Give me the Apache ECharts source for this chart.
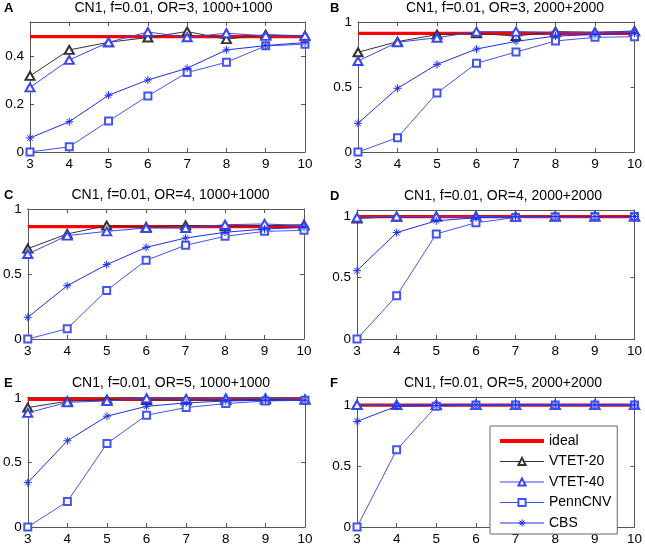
<!DOCTYPE html>
<html>
<head>
<meta charset="utf-8">
<script src="https://cdn.jsdelivr.net/npm/echarts@6/dist/echarts.min.js"></script>
<style>
html,body{margin:0;padding:0;background:#fff;}
#chart{width:645px;height:546px;}
</style>
</head>
<body>
<div id="chart"></div>
<script>
// ---------- data ----------
const xValues = [3, 4, 5, 6, 7, 8, 9, 10];
const panelLetters = ['A', 'B', 'C', 'D', 'E', 'F'];
const panelTitles = [
  'CN1, f=0.01, OR=3, 1000+1000',
  'CN1, f=0.01, OR=3, 2000+2000',
  'CN1, f=0.01, OR=4, 1000+1000',
  'CN1, f=0.01, OR=4, 2000+2000',
  'CN1, f=0.01, OR=5, 1000+1000',
  'CN1, f=0.01, OR=5, 2000+2000'
];
const seriesNames = ['ideal', 'VTET-20', 'VTET-40', 'PennCNV', 'CBS'];
const idealValues = [0.484, 0.913, 0.864, 0.996, 0.992, 0.998];

const vtet20A = [0.319, 0.428, 0.460, 0.480, 0.505, 0.473, 0.492, 0.487];
const vtet40A = [0.271, 0.386, 0.460, 0.503, 0.481, 0.498, 0.487, 0.487];
const pennA   = [0.000, 0.022, 0.130, 0.235, 0.333, 0.376, 0.445, 0.452];
const cbsA    = [0.059, 0.127, 0.238, 0.302, 0.351, 0.428, 0.446, 0.459];

const vtet20B = [0.767, 0.849, 0.903, 0.913, 0.892, 0.926, 0.920, 0.931];
const vtet40B = [0.700, 0.844, 0.879, 0.926, 0.926, 0.920, 0.920, 0.926];
const pennB   = [0.000, 0.110, 0.454, 0.682, 0.769, 0.854, 0.882, 0.887];
const cbsB    = [0.221, 0.490, 0.674, 0.792, 0.851, 0.892, 0.903, 0.913];

const vtet20C = [0.695, 0.808, 0.872, 0.862, 0.874, 0.867, 0.872, 0.879];
const vtet40C = [0.654, 0.795, 0.828, 0.854, 0.854, 0.879, 0.885, 0.872];
const pennC   = [0.000, 0.079, 0.374, 0.605, 0.721, 0.790, 0.828, 0.836];
const cbsC    = [0.167, 0.410, 0.572, 0.705, 0.777, 0.821, 0.846, 0.859];

const vtet20D = [0.981, 0.995, 0.997, 0.997, 0.997, 0.997, 0.997, 0.997];
const vtet40D = [0.989, 0.997, 0.997, 0.997, 0.997, 0.997, 0.997, 0.997];
const pennD   = [0.000, 0.352, 0.855, 0.946, 0.989, 0.995, 0.997, 0.997];
const cbsD    = [0.556, 0.866, 0.962, 0.987, 0.995, 0.997, 0.997, 0.997];

const vtet20E = [0.928, 0.977, 0.990, 0.987, 0.985, 0.985, 0.990, 0.990];
const vtet40E = [0.887, 0.969, 0.979, 1.000, 0.995, 1.000, 1.000, 0.990];
const pennE   = [0.000, 0.198, 0.649, 0.869, 0.928, 0.959, 0.979, 0.985];
const cbsE    = [0.345, 0.670, 0.861, 0.938, 0.964, 0.979, 0.985, 0.985];

const vtet20F = [1.000, 1.000, 1.000, 1.000, 1.000, 1.000, 1.000, 1.000];
const vtet40F = [1.000, 1.000, 1.000, 1.000, 1.000, 1.000, 1.000, 1.000];
const pennF   = [0.000, 0.632, 0.989, 1.000, 1.000, 1.000, 1.000, 1.000];
const cbsF    = [0.865, 0.989, 0.995, 1.000, 1.000, 1.000, 1.000, 1.000];

const panelSeries = [
  [vtet20A, vtet40A, pennA, cbsA],
  [vtet20B, vtet40B, pennB, cbsB],
  [vtet20C, vtet40C, pennC, cbsC],
  [vtet20D, vtet40D, pennD, cbsD],
  [vtet20E, vtet40E, pennE, cbsE],
  [vtet20F, vtet40F, pennF, cbsF]
];
const yMaxes = [0.545, 1, 1, 1.05, 1.01, 1.065];
const yIntervals = [0.2, 0.5, 0.5, 0.5, 0.5, 0.5];

// ---------- layout / style ----------
const grids = [
  {left: 30,  top: 22,  width: 275, height: 130},
  {left: 358, top: 22,  width: 282, height: 130},
  {left: 25,  top: 209, width: 279, height: 130},
  {left: 357, top: 210, width: 280, height: 129},
  {left: 25,  top: 397, width: 280, height: 130},
  {left: 357, top: 397, width: 280, height: 130}
];
const FONT = 'Liberation Sans, Arial, sans-serif';
const boxColor = '#555';
const asterisk = 'path://M5,0L5,10M0,5L10,5M1.6,1.6L8.4,8.4M8.4,1.6L1.6,8.4';
const styles = {
  'ideal':   {color: '#ff0000', width: 3.2, symbol: 'none', size: 0},
  'VTET-20': {color: '#333333', width: 1, symbol: 'emptyTriangle', size: [9, 8]},
  'VTET-40': {color: '#3a46f2', width: 1, symbol: 'emptyTriangle', size: [9, 8]},
  'PennCNV': {color: '#4454f0', width: 1, symbol: 'emptyRect', size: 7},
  'CBS':     {color: '#1e2ef0', width: 1, symbol: asterisk, size: 8}
};

const option = {
  animation: false,
  backgroundColor: '#fff',
  textStyle: {fontFamily: FONT},
  grid: [], xAxis: [], yAxis: [], series: [], title: []
};

grids.forEach((g, i) => {
  option.grid.push(Object.assign({containLabel: false}, g));
  const cx = g.left + g.width / 2;
  option.title.push({
    text: panelTitles[i], left: cx + 6, top: g.top - 21, textAlign: 'center', padding: 0,
    textStyle: {fontFamily: FONT, fontSize: 14, fontWeight: 'normal', color: '#000'}
  });
  option.title.push({
    text: panelLetters[i], left: i % 2 === 0 ? 4 : 330, top: g.top - 20, padding: 0,
    textStyle: {fontFamily: FONT, fontSize: 13, fontWeight: 'bold', color: '#000'}
  });
  const iv = yIntervals[i];
  const fmt = v => {
    const k = v / iv;
    return Math.abs(k - Math.round(k)) < 1e-6 ? String(+v.toFixed(2)) : '';
  };
  option.xAxis.push({
    type: 'value', gridIndex: i, min: 3, max: 10, interval: 1, position: 'bottom',
    axisLine: {show: true, onZero: false, lineStyle: {color: boxColor, width: 1}},
    axisTick: {show: true, inside: true, length: 4, lineStyle: {color: boxColor}},
    axisLabel: {show: true, margin: 5, color: '#000', fontSize: 13.5, fontFamily: FONT},
    splitLine: {show: false}
  });
  option.xAxis.push({
    type: 'value', gridIndex: i, min: 3, max: 10, interval: 1, position: 'top',
    axisLine: {show: true, onZero: false, lineStyle: {color: boxColor, width: 1}},
    axisTick: {show: true, inside: true, length: 4, lineStyle: {color: boxColor}},
    axisLabel: {show: false}, splitLine: {show: false}
  });
  option.yAxis.push({
    type: 'value', gridIndex: i, min: 0, max: yMaxes[i], interval: iv, position: 'left',
    axisLine: {show: true, onZero: false, lineStyle: {color: boxColor, width: 1}},
    axisTick: {show: true, inside: true, length: 4, lineStyle: {color: boxColor}},
    axisLabel: {show: true, margin: 6, color: '#000', fontSize: 13.5, fontFamily: FONT, formatter: fmt},
    splitLine: {show: false}
  });
  option.yAxis.push({
    type: 'value', gridIndex: i, min: 0, max: yMaxes[i], interval: iv, position: 'right',
    axisLine: {show: true, onZero: false, lineStyle: {color: boxColor, width: 1}},
    axisTick: {show: true, inside: true, length: 4, lineStyle: {color: boxColor}},
    axisLabel: {show: false}, splitLine: {show: false}
  });

  const lists = [xValues.map(() => idealValues[i])].concat(panelSeries[i]);
  lists.forEach((vals, s) => {
    const name = seriesNames[s];
    const st = styles[name];
    const isCbs = name === 'CBS';
    option.series.push({
      type: 'line', name: name, xAxisIndex: 2 * i, yAxisIndex: 2 * i,
      data: xValues.map((x, k) => [x, vals[k]]),
      symbol: st.symbol, symbolSize: st.size, showSymbol: st.symbol !== 'none',
      lineStyle: {color: st.color, width: st.width},
      itemStyle: isCbs
        ? {color: st.color, borderColor: st.color, borderWidth: 1}
        : {color: st.color, borderWidth: 1},
      emphasis: {disabled: true},
      z: s === 0 ? 2 : 3 + s,
      silent: true, clip: false
    });
  });
});

option.legend = {
  data: seriesNames.map(n => {
    const c = styles[n].color;
    if (n === 'ideal') return {name: n, lineStyle: {color: c, width: 4},
      itemStyle: {color: 'rgba(0,0,0,0)', borderWidth: 0, opacity: 0}};
    if (n === 'CBS') return {name: n, lineStyle: {color: c, width: 1},
      itemStyle: {color: 'rgba(0,0,0,0)', borderColor: c, borderWidth: 1}};
    return {name: n, lineStyle: {color: c, width: 1}, itemStyle: {borderWidth: 1}};
  }),
  orient: 'vertical', left: 490, top: 426,
  padding: [8, 6, 4, 8], itemGap: 6.5, itemWidth: 44, itemHeight: 9,
  backgroundColor: '#fff', borderColor: '#666', borderWidth: 1,
  textStyle: {fontFamily: FONT, fontSize: 14, color: '#000'},
  selectedMode: false, z: 20
};

const chart = echarts.init(document.getElementById('chart'), null, {renderer: 'canvas'});
chart.setOption(option);
</script>
</body>
</html>
